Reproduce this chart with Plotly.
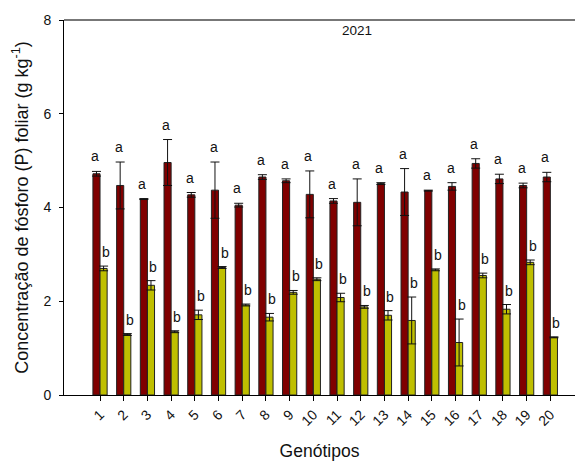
import plotly.graph_objects as go

# Genotypes and foliar phosphorus concentration (g kg-1), two groups per genotype
genotipos = list(range(1, 21))
rotulos_x = [str(g) for g in genotipos]

p_grupo_a = [4.72, 4.47, 4.18, 4.96, 4.27, 4.37, 4.05, 4.65, 4.57, 4.28,
             4.14, 4.11, 4.51, 4.33, 4.36, 4.45, 4.94, 4.61, 4.47, 4.65]
erro_a = [0.05, 0.50, 0.01, 0.49, 0.05, 0.60, 0.04, 0.05, 0.04, 0.50,
          0.05, 0.50, 0.02, 0.50, 0.01, 0.08, 0.10, 0.10, 0.05, 0.10]

p_grupo_b = [2.70, 1.29, 2.34, 1.35, 1.71, 2.72, 1.92, 1.66, 2.19, 2.47,
             2.08, 1.88, 1.70, 1.59, 2.67, 1.12, 2.55, 1.83, 2.83, 1.23]
erro_b = [0.05, 0.02, 0.10, 0.02, 0.10, 0.02, 0.02, 0.08, 0.04, 0.03,
          0.09, 0.03, 0.10, 0.50, 0.02, 0.50, 0.05, 0.10, 0.05, 0.01]

letras_a = ["a"] * 20
letras_b = ["b"] * 20

y_ticks = [0, 2, 4, 6, 8]

FONT = "Liberation Sans, Arial, sans-serif"
COR_A = "#800000"
COR_B = "#BFBF00"

fig = go.Figure()
fig.add_trace(go.Bar(
    x=genotipos, y=p_grupo_a, name="a",
    marker=dict(color=COR_A, line=dict(color="#222222", width=1)),
    error_y=dict(type="data", array=erro_a, visible=True,
                 color="#111111", thickness=1, width=4.5),
))
fig.add_trace(go.Bar(
    x=genotipos, y=p_grupo_b, name="b",
    marker=dict(color=COR_B, line=dict(color="#222222", width=1)),
    error_y=dict(type="data", array=erro_b, visible=True,
                 color="#111111", thickness=1, width=4.5),
))

# Significance letters above each bar
annotations = []
for g, v, e, t in zip(genotipos, p_grupo_a, erro_a, letras_a):
    annotations.append(dict(x=g, y=v + e, text=t, showarrow=False,
                            xshift=-5, yshift=15, yanchor="middle",
                            font=dict(family=FONT, size=14, color="#111")))
for g, v, e, t in zip(genotipos, p_grupo_b, erro_b, letras_b):
    annotations.append(dict(x=g, y=v + e, text=t, showarrow=False,
                            xshift=6, yshift=14, yanchor="middle",
                            font=dict(family=FONT, size=14, color="#111")))

annotations.append(dict(xref="paper", yref="paper", x=0.573, y=0.973,
                        text="2021", showarrow=False, yanchor="middle",
                        font=dict(family=FONT, size=13.5, color="#111")))

fig.update_layout(
    width=575, height=462,
    margin=dict(l=64, r=0, t=20, b=67),
    paper_bgcolor="white", plot_bgcolor="white",
    barmode="group", bargap=0.4, bargroupgap=0,
    showlegend=False,
    font=dict(family=FONT, color="#111"),
    annotations=annotations,
    shapes=[dict(type="line", xref="paper", yref="paper",
                 x0=0, x1=1, y0=1, y1=1,
                 line=dict(color="#777777", width=2))],
)

fig.update_xaxes(
    range=[-0.52, 21.04], tickmode="array",
    tickvals=genotipos, ticktext=rotulos_x,
    showline=True, linecolor="black", linewidth=1,
    ticks="outside", ticklen=5, tickcolor="black",
    tickangle=-45, tickfont=dict(family=FONT, size=14),
    showgrid=False, zeroline=False,
    title=dict(text="Genótipos", font=dict(family=FONT, size=17.5), standoff=16),
)
fig.update_yaxes(
    range=[0, 8], tickvals=y_ticks,
    showline=True, linecolor="black", linewidth=1,
    ticks="outside", ticklen=4, tickcolor="black",
    tickfont=dict(family=FONT, size=14),
    ticklabelstandoff=5,
    showgrid=False, zeroline=False,
    title=dict(text="Concentração de fósforo (P) foliar (g kg<sup>-1</sup>)",
               font=dict(family=FONT, size=18), standoff=10),
)

fig.write_html("out.html")
